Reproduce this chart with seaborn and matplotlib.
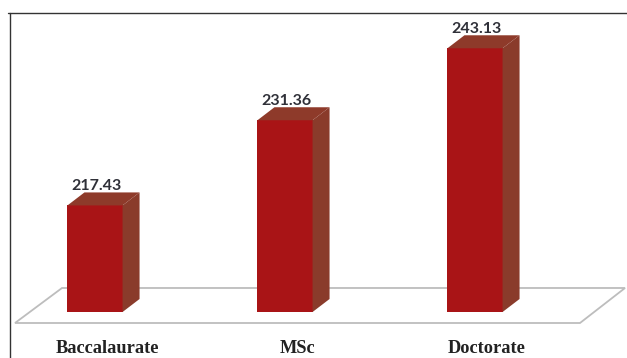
import matplotlib
matplotlib.use("Agg")
import matplotlib.pyplot as plt
from matplotlib.patches import Polygon
from matplotlib.lines import Line2D
from matplotlib.transforms import IdentityTransform, ScaledTranslation
import seaborn as sns

categories = ["Baccalaurate", "MSc", "Doctorate"]
values = [217.43, 231.36, 243.13]
value_labels = ["217.43", "231.36", "243.13"]

FRONT = "#A91416"
SIDE = "#8A3B2B"
TOP = "#8E3A2A"
FLOOR_EDGE = "#BDBDBD"
TEXT_DARK = "#2F3038"

W, H, DPI = 627, 358, 100
sns.set_style("white")

fig = plt.figure(figsize=(W / DPI, H / DPI), dpi=DPI)
fig.patch.set_facecolor("white")

# plotting area in pixel terms: left 10, right 627, top 13, bar base 312
ax_l, ax_r, ax_t, ax_b = 10, 627, 13, 312
ax = fig.add_axes([ax_l / W, (H - ax_b) / H, (ax_r - ax_l) / W, (ax_b - ax_t) / H])

sns.barplot(x=categories, y=values, color=FRONT, saturation=1, width=0.29,
            edgecolor="none", ax=ax, zorder=3)

px_per_cat = 190.0
ax.set_xlim((ax_l - 95) / px_per_cat, (ax_r - 95) / px_per_cat)
ax.set_ylim(200, 248.9)
for s in ax.spines.values():
    s.set_visible(False)
ax.set_yticks([])
ax.set_xlabel("")
ax.set_ylabel("")
ax.tick_params(axis="x", length=0, pad=0)
fig.canvas.draw()

# floor plane under the bars (axes-fraction coordinates)
floor = Polygon([(0.0081, -0.0368), (0.9238, -0.0368), (0.9968, 0.0803), (0.0843, 0.0803)],
                closed=True, transform=ax.transAxes, facecolor="white",
                edgecolor=FLOOR_EDGE, linewidth=1.3, zorder=1, clip_on=False)
ax.add_patch(floor)

# depth faces of each bar, built from the bar geometry in display space
dx, dy = 17, 13
ybase = ax.get_ylim()[0]
for patch in ax.patches[:len(values)]:
    x0 = patch.get_x()
    w = patch.get_width()
    top = patch.get_y() + patch.get_height()
    (lx, ty) = ax.transData.transform((x0, top))
    (rx, by) = ax.transData.transform((x0 + w, ybase))
    side = Polygon([(rx, by), (rx + dx, by + dy), (rx + dx, ty + dy), (rx, ty)],
                   closed=True, transform=IdentityTransform(), facecolor=SIDE,
                   edgecolor="none", zorder=3)
    cap = Polygon([(lx, ty), (rx, ty), (rx + dx, ty + dy), (lx + dx, ty + dy)],
                  closed=True, transform=IdentityTransform(), facecolor=TOP,
                  edgecolor="none", zorder=3)
    fig.add_artist(side)
    fig.add_artist(cap)

# value labels above each bar
for i, (v, lab) in enumerate(zip(values, value_labels)):
    ax.annotate(lab, xy=(i, v), xytext=(1, 14), textcoords="offset points",
                ha="center", va="center", fontsize=11.5, fontweight="bold",
                family="Lato", color=TEXT_DARK, zorder=5, annotation_clip=False)

# category labels, nudged right to sit under the full bar depth
ax.set_xticks(range(len(categories)))
ax.set_xticklabels(categories, family="Liberation Serif", fontweight="bold",
                   fontsize=13.2, color="#222222")
shift = ScaledTranslation(12 / DPI, -28 / DPI, fig.dpi_scale_trans)
for t in ax.get_xticklabels():
    t.set_transform(t.get_transform() + shift)

# outer frame (left and top edges)
fig.add_artist(Line2D([10 / W, 10 / W], [0, (H - 13) / H], color="#333333", linewidth=1.0))
fig.add_artist(Line2D([8 / W, 1], [(H - 13) / H, (H - 13) / H], color="#333333", linewidth=1.0))

fig.savefig("out.png", dpi=DPI, facecolor="white")
